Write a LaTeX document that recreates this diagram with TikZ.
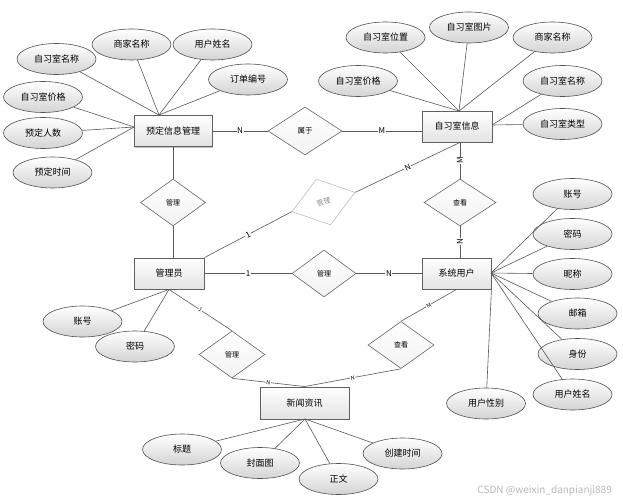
\documentclass[tikz,border=0pt]{standalone}
\usepackage{fontspec}
\setmainfont{Noto Sans CJK SC}
\usetikzlibrary{shapes.geometric,shadows}
\begin{document}
\begin{tikzpicture}[x=1pt,y=-1pt,
  ent/.style={rectangle, draw=black!62, line width=0.9pt, top color=white, bottom color=black!11,
    minimum height=31pt, inner sep=0pt, font=\fontsize{9}{10}\selectfont,
    drop shadow={shadow xshift=1.2pt, shadow yshift=-1.2pt, opacity=0.25, fill=black}},
  attr/.style={ellipse, draw=black!68, line width=0.6pt, top color=white, bottom color=black!17,
    minimum width=79pt, minimum height=31pt, inner sep=0pt, font=\fontsize{9}{10}\selectfont},
  rel/.style={diamond, draw=black!60, line width=0.6pt, top color=white, bottom color=black!5,
    minimum width=66pt, minimum height=47pt, inner sep=0pt, font=\fontsize{7}{8}\selectfont},
  con/.style={draw=black!65, line width=0.6pt},
  lbl/.style={font=\fontsize{8}{8}\selectfont, fill=white, inner sep=0.6pt, sloped},
  slbl/.style={lbl, font=\fontsize{5.5}{5.5}\selectfont}
]
\useasboundingbox (0,0) rectangle (623,502);
\fill[white] (0,0) rectangle (623,502);

% entities
\node[ent, minimum width=78pt] (yd) at (173,131) {预定信息管理};
\node[ent, minimum width=70pt] (zx) at (457,126.5) {自习室信息};
\node[ent, minimum width=70pt] (gly) at (169,273.5) {管理员};
\node[ent, minimum width=69pt] (usr) at (456.5,273.5) {系统用户};
\node[ent, minimum width=89pt, minimum height=32pt] (news) at (304.5,403) {新闻资讯};

% relationships
\node[rel, minimum width=74pt, minimum height=48pt, font=\fontsize{7.5}{8}\selectfont] (sy) at (305,131) {属于};
\node[rel, minimum width=65pt] (g1) at (173,202.5) {管理};
\node[rel, minimum width=64pt] (g2) at (324,273.5) {管理};
\node[rel, minimum width=72pt] (c1) at (460,202.5) {查看};
\node[rel] (g3) at (232,354.5) {管理};
\node[rel] (c2) at (401,345) {查看};
\node[rel, draw=black!25, text=black!45, top color=white, bottom color=white, rotate=17,
  minimum width=66pt, minimum height=48pt] (gd) at (323.5,202) {管理};

% attributes of 预定信息管理
\node[attr] (a1) at (56.5,59) {自习室名称};
\node[attr] (a2) at (131.5,44.5) {商家名称};
\node[attr] (a3) at (212.5,44.5) {用户姓名};
\node[attr] (a4) at (248,79.5) {订单编号};
\node[attr] (a5) at (43,97) {自习室价格};
\node[attr] (a6) at (43,133) {预定人数};
\node[attr] (a7) at (52.5,172.5) {预定时间};
\coordinate (ya) at (159,115);
\coordinate (yb) at (134,127);
\foreach \n in {a1,a2,a3,a4} \draw[con] (\n) -- (ya);
\foreach \n in {a5,a6,a7} \draw[con] (\n) -- (yb);

% attributes of 自习室信息
\node[attr] (b1) at (385.5,37.5) {自习室位置};
\node[attr] (b2) at (469,27.5) {自习室图片};
\node[attr] (b3) at (552.5,37.5) {商家名称};
\node[attr] (b4) at (358,81) {自习室价格};
\node[attr] (b5) at (562.5,81) {自习室名称};
\node[attr] (b6) at (562.5,124) {自习室类型};
\coordinate (zc) at (459,111);
\coordinate (zd) at (492,125);
\foreach \n in {b1,b2,b3,b4} \draw[con] (\n) -- (zc);
\foreach \n in {b5,b6} \draw[con] (\n) -- (zd);

% attributes of 系统用户
\node[attr] (u1) at (572.5,194) {账号};
\node[attr] (u2) at (572.5,234) {密码};
\node[attr] (u3) at (572.5,274) {昵称};
\node[attr] (u4) at (577.5,313.5) {邮箱};
\node[attr] (u5) at (577.5,354) {身份};
\node[attr] (u6) at (572.5,394.5) {用户姓名};
\node[attr] (u7) at (486,403.5) {用户性别};
\coordinate (ue) at (491,273);
\foreach \n in {u1,u2,u3,u4,u5,u6} \draw[con] (\n) -- (ue);
\draw[con] (usr.south east) -- (u7);

% attributes of 管理员
\node[attr] (m1) at (82.5,321.5) {账号};
\node[attr] (m2) at (135,346.5) {密码};
\draw[con] (m1) -- (gly.south);
\draw[con] (m2) -- (gly.south);

% attributes of 新闻资讯
\node[attr] (n1) at (182,449.5) {标题};
\node[attr] (n2) at (260,463) {封面图};
\node[attr] (n3) at (338.5,479) {正文};
\node[attr] (n4) at (402.5,453.5) {创建时间};
\coordinate (ns) at (305,419);
\foreach \n in {n1,n2,n3,n4} \draw[con] (\n) -- (ns);

% relationship connectors
\draw[con] (yd) -- node[lbl]{N} (sy);
\draw[con] (sy) -- node[lbl]{M} (sy -| zx.west);
\draw[con] (yd) -- (g1);
\draw[con] (g1) -- (g1 |- gly.north);
\draw[con] (gly) -- node[lbl]{1} (g2);
\draw[con] (g2) -- node[lbl]{N} (usr);
\draw[con] (c1.north) -- node[lbl]{M} (c1.north |- zx.south);
\draw[con] (usr.north -| c1.south) -- node[lbl]{N} (c1.south);
\draw[con] (gly.north east) -- node[lbl]{1} (gd.west);
\draw[con] (gd.east) -- node[lbl]{N} (c1.north |- zx.south);
\draw[con] (gly.south) -- node[slbl]{1} (g3.north);
\draw[con] (g3.south) -- node[slbl]{N} (news.north);
\draw[con] (c2.north) -- node[slbl]{M} (usr.south);
\draw[con] (c2.south) -- node[slbl]{N} (news.north);

% watermark
\node[text=black!28, font=\fontsize{10}{10}\selectfont, anchor=east, inner sep=0pt] (wm) at (612,491) {CSDN @weixin\_danpianji889};
\end{tikzpicture}
\end{document}
